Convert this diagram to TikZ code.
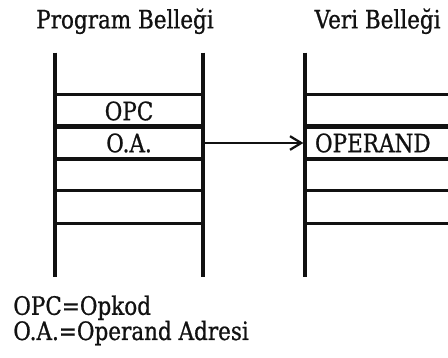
\documentclass[tikz,border=0pt]{standalone}
\usepackage{fontspec}
\setmainfont{DejaVu Serif}[FakeStretch=0.85,FakeBold=0.8]
\usetikzlibrary{arrows.meta,positioning}
\definecolor{ink}{HTML}{111111}
\newcommand\memfont{\fontsize{18}{21}\selectfont}
\tikzset{
  wall/.style={line width=2.8pt,draw=ink},
  rowline/.style={line width=1.9pt,draw=ink},
  ptr/.style={-{Straight Barb[length=2.8mm,width=3.4mm,line width=1.6pt]},line width=1.7pt,draw=ink}
}

\begin{document}
\begin{tikzpicture}[
    x=1cm,y=1cm,
    cell/.style={minimum width=3.7cm,minimum height=0.8cm,inner sep=0pt,font=\memfont,text=ink},
    datacell/.style={cell,text width=3.2cm,inner xsep=0.25cm,align=left},
    selcell/.style={draw=ink,line width=2.3pt},
    heading/.style={font=\memfont,text=ink,anchor=base},
    note/.style={font=\memfont,text=ink,anchor=base west,inner sep=0pt}
  ]
  \useasboundingbox (0,0) rectangle (11.2,8.95);

  \node[heading] (progtitle) at (3.125,8.24) {Program Belleği};
  \node[heading] (datatitle) at (9.44,8.24) {Veri Belleği};

  % program memory
  \foreach \i/\txt/\sty in {1/OPC/,2/O.A./selcell,3//,4//} {
    \node[cell,\sty] (p\i) at (3.225,6.975-0.8*\i) {\txt};
    \draw[rowline] (p\i.north west) -- (p\i.north east);
  }
  \draw[rowline] (p4.south west) -- (p4.south east);
  \draw[wall] ([yshift=1.05cm]p1.north west) -- ([yshift=-1.35cm]p4.south west);
  \draw[wall] ([yshift=1.05cm]p1.north east) -- ([yshift=-1.35cm]p4.south east);

  % data memory
  \foreach \i/\txt/\sty in {1//,2/OPERAND/selcell,3//,4//} {
    \node[datacell,\sty] (d\i) at (9.475,6.975-0.8*\i) {\txt};
    \draw[rowline] (d\i.north west) -- (d\i.north east);
  }
  \draw[rowline] (d4.south west) -- (d4.south east);
  \draw[wall] ([yshift=1.05cm]d1.north west) -- ([yshift=-1.35cm]d4.south west);

  \draw[ptr] (p2.east) -- (d2.west);

  \node[note] (key1) at (0.325,1.08) {OPC=Opkod};
  \node[note] (key2) at (0.325,0.45) {O.A.=Operand Adresi};
\end{tikzpicture}
\end{document}
